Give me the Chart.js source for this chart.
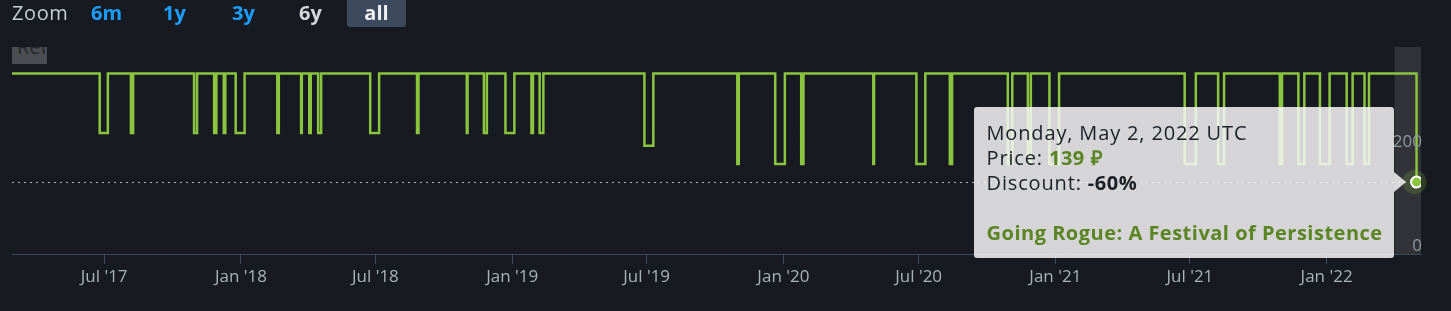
<!DOCTYPE html>
<html>
<head>
<meta charset="utf-8">
<script src="https://cdn.jsdelivr.net/npm/chart.js@4.4.1/dist/chart.umd.min.js"></script>
<style>
  html, body { margin: 0; padding: 0; background: #171a21; overflow: hidden; }
  body { width: 1451px; height: 311px; position: relative; font-family: "Open Sans", sans-serif; }
  #wrap { position: absolute; left: 0; top: 0; width: 1451px; height: 311px; }
  .zlabel { position: absolute; left: 12px; top: 0; line-height: 26px; font-size: 20px; color: #c9cfd5; letter-spacing: 0.6px; }
  .zbtn { position: absolute; top: 0; width: 59px; height: 27px; line-height: 26px; text-align: center;
          font-size: 20px; font-weight: 700; color: #1a9fff; border-radius: 0 0 3px 3px; }
  .zbtn.off { color: #d4d7da; }
  .zbtn.sel { background: #3d4a5e; color: #eef0f2; }
  #flag { position: absolute; left: 12px; top: 47px; width: 35px; height: 17px; overflow: hidden; background: #4b4d52; }
  #flag span { position: absolute; left: 5px; top: -14px; font-size: 20px; color: #25282d; }
  #tip { position: absolute; box-sizing: border-box; width: 420px; height: 151px; padding: 13px 13px;
         background: rgba(247,247,247,0.85); border-radius: 3px; font-size: 20px; line-height: 25px; color: #1b1f26;
         letter-spacing: 0.85px; white-space: nowrap; }
  #tip:after { content: ""; position: absolute; right: -12px; top: 65px; border-left: 12px solid rgba(247,247,247,0.85);
               border-top: 10px solid transparent; border-bottom: 10px solid transparent; }
  #tip b { letter-spacing: 0.5px; }
  #tip b.g { color: #5b8422; }
</style>
</head>
<body>
<div id="wrap"><canvas id="priceChart" width="1451" height="311"></canvas></div>
<div class="zlabel">Zoom</div>
<div class="zbtn" style="left:77px">6m</div>
<div class="zbtn" style="left:145px">1y</div>
<div class="zbtn" style="left:214px">3y</div>
<div class="zbtn off" style="left:281px">6y</div>
<div class="zbtn sel" style="left:347px">all</div>
<div id="flag"><span>Ref</span></div>
<div id="tip"></div>
<script>
// Harga normal dan periode diskon
const fullPrice = 349;
const firstDate = '2017-02-27';
const lastDate = '2022-05-08';
const saleStart = [
  '2017-06-25', '2017-08-06', '2017-10-30', '2017-11-26', '2017-12-09', '2017-12-25',
  '2018-02-19', '2018-03-23', '2018-04-03', '2018-04-15', '2018-06-24', '2018-08-26',
  '2018-11-01', '2018-11-24', '2018-12-23', '2019-01-27', '2019-02-07', '2019-06-28',
  '2019-10-31', '2019-12-21', '2020-01-25', '2020-05-01', '2020-06-28', '2020-08-12',
  '2020-10-29', '2020-11-25', '2020-12-24', '2021-06-24', '2021-08-08', '2021-10-30',
  '2021-11-24', '2021-12-23', '2022-01-28', '2022-02-21'
];
const saleEnd = [
  '2017-07-06', '2017-08-09', '2017-11-03', '2017-11-29', '2017-12-11', '2018-01-06',
  '2018-02-21', '2018-03-24', '2018-04-05', '2018-04-19', '2018-07-06', '2018-08-28',
  '2018-11-02', '2018-11-28', '2019-01-04', '2019-01-29', '2019-02-12', '2019-07-10',
  '2019-11-02', '2020-01-03', '2020-01-28', '2020-05-02', '2020-07-10', '2020-08-15',
  '2020-11-04', '2020-11-29', '2021-01-06', '2021-07-09', '2021-08-16', '2021-11-02',
  '2021-12-02', '2022-01-05', '2022-02-05', '2022-02-27'
];
const salePrice = [
  234, 234, 234, 234, 234, 234, 234, 234, 234, 234, 234, 234,
  234, 234, 234, 234, 234, 209, 174, 174, 174, 174, 174, 174,
  174, 174, 174, 174, 174, 174, 174, 174, 174, 174
];
const currentDate = '2022-05-02';
const currentPrice = 139;
const currentEvent = 'Going Rogue: A Festival of Persistence';

const tickDates = ['2017-07-01', '2018-01-01', '2018-07-01', '2019-01-01', '2019-07-01',
  '2020-01-01', '2020-07-01', '2021-01-01', '2021-07-01', '2022-01-01'];
const tickLabels = ["Jul '17", "Jan '18", "Jul '18", "Jan '19", "Jul '19",
  "Jan '20", "Jul '20", "Jan '21", "Jul '21", "Jan '22"];
const yTicks = [0, 200];

// Susun titik-titik garis tangga
const points = [{ x: Date.parse(firstDate), y: fullPrice }];
saleStart.forEach((d, i) => {
  points.push({ x: Date.parse(d), y: salePrice[i] });
  points.push({ x: Date.parse(saleEnd[i]), y: fullPrice });
});
points.push({ x: Date.parse(currentDate), y: currentPrice });
const lastIdx = points.length - 1;

const hoverPlugin = {
  id: 'hoverDecor',
  beforeDatasetsDraw(chart) {
    const { ctx, chartArea } = chart;
    const pt = chart.getDatasetMeta(0).data[lastIdx];
    ctx.save();
    // pita crosshair
    ctx.fillStyle = '#313338';
    ctx.fillRect(pt.x - 22, chartArea.top, chartArea.right - (pt.x - 22), chartArea.bottom - chartArea.top);
    // garis putus-putus
    ctx.strokeStyle = 'rgba(220,220,220,0.8)';
    ctx.lineWidth = 1;
    ctx.setLineDash([2, 4]);
    ctx.beginPath();
    ctx.moveTo(chartArea.left, Math.round(pt.y) + 0.5);
    ctx.lineTo(pt.x, Math.round(pt.y) + 0.5);
    ctx.stroke();
    ctx.setLineDash([]);
    // halo
    ctx.fillStyle = 'rgba(139,197,63,0.2)';
    ctx.beginPath();
    ctx.arc(pt.x - 2, pt.y, 12, 0, Math.PI * 2);
    ctx.fill();
    ctx.restore();
  },
  afterDatasetsDraw(chart) {
    const { ctx, chartArea, scales } = chart;
    ctx.save();
    ctx.font = '17px "Open Sans"';
    ctx.fillStyle = '#8f98a0';
    ctx.textAlign = 'right';
    ctx.textBaseline = 'middle';
    yTicks.forEach(v => {
      ctx.fillText(String(v), chartArea.right + 1, scales.y.getPixelForValue(v) - 8);
    });
    ctx.restore();
  }
};

const ctx = document.getElementById('priceChart').getContext('2d');
const chart = new Chart(ctx, {
  type: 'line',
  data: {
    datasets: [{
      data: points,
      stepped: true,
      borderColor: '#8bc53f',
      borderWidth: 2.5,
      fill: false,
      pointRadius: points.map((p, i) => i === lastIdx ? 5.5 : 0),
      pointBackgroundColor: '#8bc53f',
      pointBorderColor: '#ffffff',
      pointBorderWidth: 2,
    }]
  },
  options: {
    responsive: false,
    animation: false,
    layout: { padding: { left: 12, right: 30, top: 47, bottom: 0 } },
    plugins: { legend: { display: false }, tooltip: { enabled: false } },
    scales: {
      x: {
        type: 'linear',
        min: Date.parse(firstDate),
        max: Date.parse(lastDate),
        afterBuildTicks: scale => { scale.ticks = tickDates.map(d => ({ value: Date.parse(d) })); },
        afterFit: scale => { scale.height = 57; },
        grid: { drawOnChartArea: false, tickLength: 10, color: '#3d4a5c' },
        border: { color: '#3d4a5c', width: 1 },
        ticks: {
          autoSkip: false,
          maxRotation: 0,
          padding: 3,
          color: '#aab2ba',
          font: { family: 'Open Sans', size: 17 },
          callback: value => tickLabels[tickDates.findIndex(d => Date.parse(d) === value)]
        }
      },
      y: { display: false, min: 0, max: 400 }
    }
  },
  plugins: [hoverPlugin]
});

// Tooltip HTML
const pt = chart.getDatasetMeta(0).data[lastIdx];
const tip = document.getElementById('tip');
const dateText = new Date(Date.parse(currentDate)).toLocaleDateString('en-US',
  { weekday: 'long', year: 'numeric', month: 'long', day: 'numeric', timeZone: 'UTC' }) + ' UTC';
const discount = Math.round((1 - currentPrice / fullPrice) * 100);
tip.innerHTML = dateText + '<br>Price: <b class="g">' + currentPrice + ' ₽</b><br>Discount: <b>-' +
  discount + '%</b><br><br><b class="g">' + currentEvent + '</b>';
tip.style.left = (pt.x - 23 - 420) + 'px';
tip.style.top = (pt.y - 75) + 'px';
</script>
</body>
</html>
